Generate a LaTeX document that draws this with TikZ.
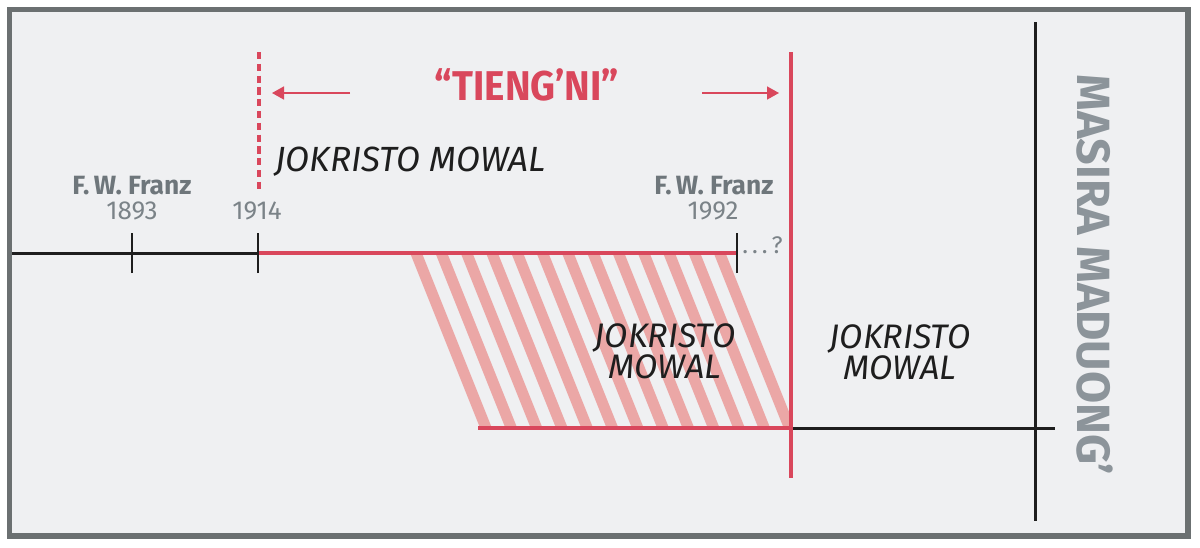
\documentclass[tikz,border=0pt]{standalone}
\usepackage{fontspec}
\usepackage{graphicx}
\setmainfont{Fira Sans}
\usetikzlibrary{arrows.meta}
\definecolor{bgc}{HTML}{EFF0F2}
\definecolor{framec}{HTML}{6B7071}
\definecolor{redc}{HTML}{D9475C}
\definecolor{stripec}{HTML}{EBA7A6}
\definecolor{grayc}{HTML}{6E767B}
\definecolor{yearc}{HTML}{7B8388}
\definecolor{sidec}{HTML}{8C949A}
\definecolor{blackc}{HTML}{1E1E1E}
\tikzset{
  blackline/.style={draw=blackc, line width=1.5pt},
  redline/.style={draw=redc, line width=2pt},
  tickline/.style={draw=blackc, line width=1.2pt},
  redarrow/.style={draw=redc, line width=0.8pt, -{Triangle[length=6pt,width=6.5pt]}},
  who/.style={text=grayc, font=\bfseries\fontsize{13.2}{14}\selectfont, anchor=base, inner sep=0pt},
  year/.style={text=yearc, font=\fontsize{13}{14}\selectfont, anchor=base, inner sep=0pt},
  era/.style={text=blackc, font=\itshape\fontsize{17.5}{18}\selectfont, anchor=base, inner sep=0pt},
  era2/.style={text=blackc, font=\itshape\fontsize{17}{18}\selectfont, anchor=base, inner sep=0pt},
}
\begin{document}
\begin{tikzpicture}[x=0.5pt,y=-0.5pt]
\useasboundingbox (0,0) rectangle (1200,547);
\fill[white] (0,0) rectangle (1200,547);
\draw[draw=framec, fill=bgc, line width=2.6pt] (9.5,9.5) rectangle (1188,536);
% hatch
\begin{scope}
\clip (404,253) -- (737,253) -- (791,388) -- (791,428) -- (474,428) -- cycle;
\foreach \k in {-2,...,13} {
  \draw[stripec, line width=5.5pt] ({416+25.3*\k},253) -- ({486+25.3*\k},428);
}
\end{scope}
% timeline
\coordinate (tl0) at (12,253);
\coordinate (t1893) at (132,253);
\coordinate (t1914) at (258,253);
\coordinate (t1992) at (737,253);
\draw[blackline] (tl0) -- (t1914);
\draw[redline] (t1914) -- (t1992);
\foreach \c in {t1893,t1914,t1992} { \draw[tickline] ([yshift=-10pt]\c) -- ([yshift=10pt]\c); }
% bottom line
\coordinate (b0) at (478,428);
\coordinate (b1) at (791,428);
\coordinate (b2) at (1055,428);
\draw[redline] (b0) -- (b1);
\draw[blackline] (b1) -- (b2);
% verticals
\coordinate (d0) at (259,52);
\coordinate (d1) at (259,192);
\draw[draw=redc, line width=2.4pt, dash pattern=on 3.6pt off 2.3pt] (d0) -- (d1);
\coordinate (r0) at (791,52);
\coordinate (r1) at (791,478);
\draw[redline] (r0) -- (r1);
\coordinate (k0) at (1035,22);
\coordinate (k1) at (1035,521);
\draw[blackline] (k0) -- (k1);
% arrows
\coordinate (al0) at (350,93);
\coordinate (al1) at (272,93);
\coordinate (ar0) at (702,93);
\coordinate (ar1) at (779,93);
\draw[redarrow] (al0) -- (al1);
\draw[redarrow] (ar0) -- (ar1);
% texts
\node[text=redc, font=\bfseries\fontsize{20.8}{21}\selectfont, anchor=base, inner sep=0pt] (tieng) at (527,100) {\scalebox{0.93}[1]{“TIENG’NI”}};
\node[era, anchor=base west] (era1) at (275,171) {JOKRISTO MOWAL};
\node[who] (fw1) at (132,194) {F.\,W. Franz};
\node[year] (y1) at (132,219) {1893};
\node[year] (y2) at (257,219) {1914};
\node[who] (fw2) at (714,194) {F.\,W. Franz};
\node[year] (y3) at (713,219) {1992};
\node[text=yearc, font=\fontsize{12}{13}\selectfont, anchor=base west, inner sep=0pt] (q) at (742,253) {.\,.\,.\,?};
\node[era2] (era2a) at (665,347) {JOKRISTO};
\node[era2] (era2b) at (665,378) {MOWAL};
\node[era2] (era3a) at (900,348) {JOKRISTO};
\node[era2] (era3b) at (900,379) {MOWAL};
\node[text=sidec, font=\bfseries\fontsize{23.3}{24}\selectfont, rotate=-90, inner sep=0pt] (side) at (1095,275) {MASIRA MADUONG’};
\end{tikzpicture}
\end{document}
